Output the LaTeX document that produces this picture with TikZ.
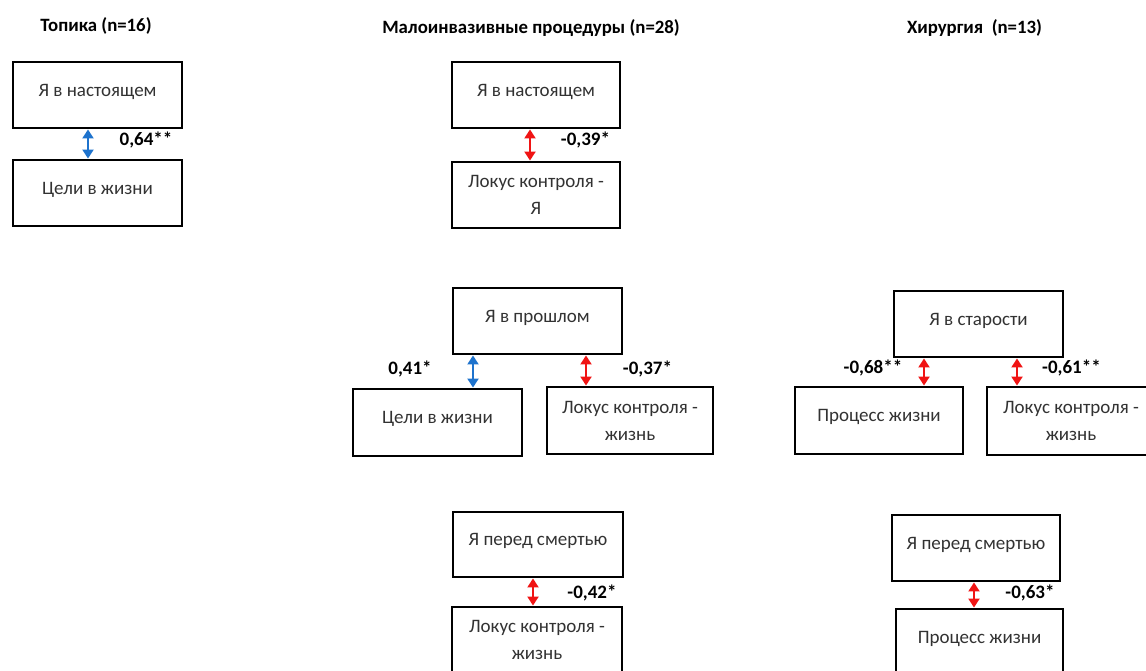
\documentclass[tikz,border=0pt]{standalone}
\usepackage{fontspec}
\setmainfont{Carlito}
\usetikzlibrary{arrows.meta}
\definecolor{arrblue}{RGB}{30,115,205}
\definecolor{arrred}{RGB}{240,20,20}
\definecolor{boxtext}{RGB}{50,50,50}
\begin{document}
\begin{tikzpicture}[x=1pt,y=-1pt,
  box/.style={draw=black, line width=1.9pt, minimum width=169pt, minimum height=66pt,
    inner sep=0pt, align=center, text=boxtext, font=\fontsize{19}{27}\selectfont},
  oneline/.style={text height=12pt, text depth=9.5pt},
  lbl/.style={font=\bfseries\fontsize{19}{21}\selectfont, inner sep=0pt},
  ttl/.style={font=\bfseries\fontsize{18.8}{21}\selectfont, inner sep=0pt},
  relarr/.style={line width=2pt, {Triangle[length=9pt,width=11pt]}-{Triangle[length=9pt,width=11pt]}, shorten <=0.5pt, shorten >=0.5pt},
  posarr/.style={relarr, draw=arrblue, fill=arrblue},
  negarr/.style={relarr, draw=arrred, fill=arrred}]
\useasboundingbox (0,0) rectangle (1146,670);
\clip (0,0) rectangle (1146,670);
\fill[white] (0,0) rectangle (1146,670);

% Titles
\node[ttl] (t1) at (96,26) {Топика (n=16)};
\node[ttl] (t2) at (531,28) {Малоинвазивные процедуры (n=28)};
\node[ttl] (t3) at (974.5,28) {Хирургия\ \ (n=13)};

% Topika
\node[box,oneline] (T1) at (97.5,95) {Я в настоящем};
\node[box,oneline] (T2) at (97.5,193) {Цели в жизни};
\draw[posarr] ([xshift=-9.5pt]T1.south) -- ([xshift=-9.5pt]T1.south |- T2.north);
\node[lbl] (l1) at (146,140) {0,64**};

% Minimally invasive
\node[box,oneline,minimum width=168pt] (M1) at (536,95) {Я в настоящем};
\node[box,minimum width=168pt] (M2) at (536,195) {Локус контроля -\\Я};
\draw[negarr] ([xshift=-6pt]M1.south) -- ([xshift=-6pt]M1.south |- M2.north);
\node[lbl] (l2) at (585.5,140) {-0,39*};

\node[box,oneline] (M3) at (537.5,321) {Я в прошлом};
\node[box,oneline,minimum height=67pt] (M4) at (437.5,422.5) {Цели в жизни};
\node[box,minimum width=166pt,minimum height=67pt] (M5) at (630,420.5) {Локус контроля -\\жизнь};
\draw[posarr] (M4.north -| 473,0) -- (M3.south -| 473,0);
\draw[negarr] (M5.north -| 586,0) -- (M3.south -| 586,0);
\node[lbl] (l3) at (410,369) {0,41*};
\node[lbl] (l4) at (647.5,369) {-0,37*};

\node[box,oneline,minimum width=170pt,minimum height=65pt] (M6) at (538,544.5) {Я перед смертью};
\node[box,minimum width=170pt] (M7) at (537,640) {Локус контроля -\\жизнь};
\draw[negarr] (M6.south -| 533,0) -- (M7.north -| 533,0);
\node[lbl] (l5) at (592,593) {-0,42*};

% Surgery
\node[box,oneline] (H1) at (978.5,324) {Я в старости};
\node[box,oneline,minimum width=168pt,minimum height=67pt] (H2) at (879,420.5) {Процесс жизни};
\node[box,minimum width=168pt,minimum height=68pt] (H3) at (1071,421) {Локус контроля -\\жизнь};
\draw[negarr] (H2.north -| 924,0) -- (H1.south -| 924,0);
\draw[negarr] (H3.north -| 1017,0) -- (H1.south -| 1017,0);
\node[lbl] (l6) at (873,368) {-0,68**};
\node[lbl] (l7) at (1071.5,368) {-0,61**};

\node[box,oneline,minimum width=168pt] (H4) at (976,548) {Я перед смертью};
\node[box,oneline,minimum width=167pt] (H5) at (979.5,642) {Процесс жизни};
\draw[negarr] (H4.south -| 974,0) -- (H5.north -| 974,0);
\node[lbl] (l8) at (1030,593) {-0,63*};
\end{tikzpicture}
\end{document}
